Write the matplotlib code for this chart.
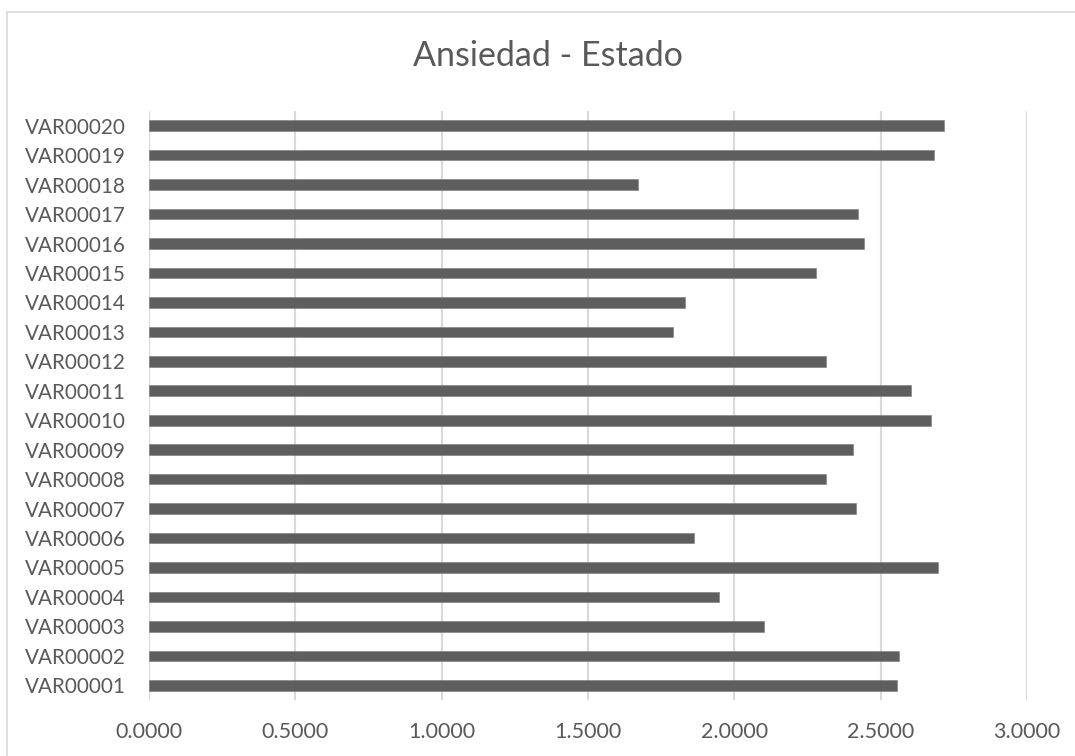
import matplotlib
matplotlib.use("Agg")
import matplotlib.pyplot as plt
from matplotlib.lines import Line2D

categories = ["VAR00001", "VAR00002", "VAR00003", "VAR00004", "VAR00005",
              "VAR00006", "VAR00007", "VAR00008", "VAR00009", "VAR00010",
              "VAR00011", "VAR00012", "VAR00013", "VAR00014", "VAR00015",
              "VAR00016", "VAR00017", "VAR00018", "VAR00019", "VAR00020"]
values = [2.557, 2.562, 2.103, 1.946, 2.696,
          1.863, 2.416, 2.312, 2.404, 2.671,
          2.604, 2.312, 1.790, 1.831, 2.280,
          2.442, 2.422, 1.671, 2.681, 2.718]
xticks = [0.0, 0.5, 1.0, 1.5, 2.0, 2.5, 3.0]
xtick_labels = ["0.0000", "0.5000", "1.0000", "1.5000", "2.0000", "2.5000", "3.0000"]
title = "Ansiedad - Estado"

plt.rcParams['font.family'] = ['Lato', 'DejaVu Sans']
text_color = "#595959"
grid_color = "#D9D9D9"
bar_color = "#5E5E5E"

W, H = 1075, 756
fig = plt.figure(figsize=(W / 100, H / 100), dpi=100)
fig.patch.set_facecolor("white")

ax = fig.add_axes([149 / W, 1 - 700 / H, (1027 - 149) / W, (700 - 111) / H])
ax.barh(range(len(categories)), values, height=0.36, color=bar_color,
        edgecolor="#7a7a7a", linewidth=0.4, zorder=3)
ax.set_xlim(0, 3.0)
ax.set_ylim(-0.5, len(categories) - 0.5)
ax.set_yticks(range(len(categories)))
ax.set_yticklabels(categories)
ax.set_xticks(xticks)
ax.set_xticklabels(xtick_labels)
ax.xaxis.grid(True, color=grid_color, linewidth=1.5, zorder=0)
ax.set_axisbelow(True)
for s in ax.spines.values():
    s.set_visible(False)
ax.tick_params(axis="both", length=0, labelcolor=text_color)
ax.tick_params(axis="y", pad=17, labelsize=14.9)
ax.tick_params(axis="x", pad=16, labelsize=15.5)

fig.text(548 / W, 1 - 56 / H, title, ha="center", va="center",
         fontsize=24.5, color=text_color)

fig.add_artist(Line2D([7 / W, 1.0], [1 - 12 / H, 1 - 12 / H], transform=fig.transFigure,
                      color=grid_color, linewidth=1.2))
fig.add_artist(Line2D([7 / W, 7 / W], [1 - 12 / H, 0.0], transform=fig.transFigure,
                      color=grid_color, linewidth=1.2))

fig.savefig("out.png", dpi=100, facecolor="white")
